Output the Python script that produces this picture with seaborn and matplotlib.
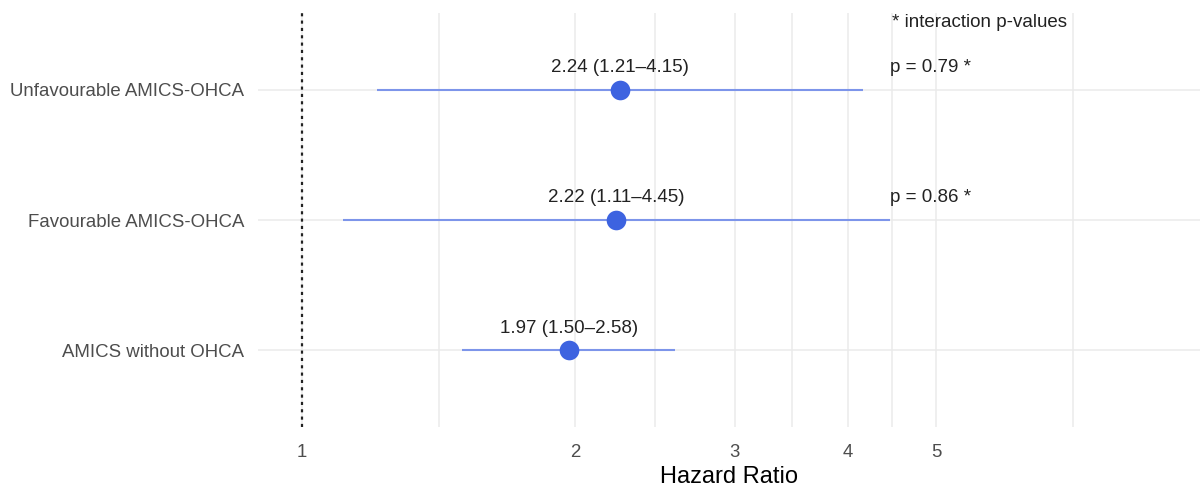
import numpy as np
import pandas as pd
import matplotlib
matplotlib.use("Agg")
import matplotlib.pyplot as plt
from matplotlib.ticker import FixedLocator, NullFormatter
import seaborn as sns

# Subgroups, listed top to bottom
groups = ["Unfavourable AMICS-OHCA", "Favourable AMICS-OHCA", "AMICS without OHCA"]
hazard_ratio = [2.24, 2.22, 1.97]
ci_lower = [1.21, 1.11, 1.50]
ci_upper = [4.15, 4.45, 2.58]
p_interaction = ["p = 0.79 *", "p = 0.86 *", ""]
footnote = "* interaction p-values"
x_ticks = [1, 2, 3, 4, 5]

df = pd.DataFrame({
    "group": groups,
    "hr": hazard_ratio,
    "lo": ci_lower,
    "hi": ci_upper,
    "p": p_interaction,
})
df["ypos"] = np.arange(len(df))[::-1] + 1
df["label"] = [f"{h:.2f} ({l:.2f}\u2013{u:.2f})" for h, l, u in zip(df.hr, df.lo, df.hi)]

sns.set_theme(style="whitegrid")
plt.rcParams["font.family"] = ["Liberation Sans", "DejaVu Sans"]

fig = plt.figure(figsize=(12, 4.88), dpi=100)
ax = fig.add_axes([0.215, 0.125, 0.785, 0.848])

line_col = "#7d95ea"
point_col = "#3d63e0"
grid_col = "#ebebeb"

# confidence intervals
ax.hlines(df.ypos, df.lo, df.hi, color=line_col, lw=1.5, zorder=2)
# point estimates
sns.scatterplot(data=df, x="hr", y="ypos", ax=ax, s=200, color=point_col,
                edgecolor=point_col, linewidth=0, zorder=3, legend=False)

ax.set_xscale("log")
ax.set_xlim(0.894, 9.77)
ax.set_ylim(0.41, 3.59)

# reference line at HR = 1
ax.axvline(1, color="#222222", lw=1.6, ls=(0, (1.4, 1.9)), zorder=2)

# estimate labels above each point
for _, r in df.iterrows():
    ax.text(r.hr, r.ypos + 0.17, r.label, ha="center", va="center",
            fontsize=13.5, color="#222222", zorder=4)
    if r.p:
        ax.text(4.45, r.ypos + 0.17, r.p, ha="left", va="center",
                fontsize=13.5, color="#222222", zorder=4)
ax.text(4.47, 3.52, footnote, ha="left", va="center", fontsize=13.5,
        color="#222222", zorder=4)

# axis ticks and grid
majors = x_ticks + [10]
ax.xaxis.set_major_locator(FixedLocator(x_ticks))
ax.set_xticklabels([str(t) for t in x_ticks])
minor = [np.sqrt(a * b) for a, b in zip(majors[:-1], majors[1:])]
ax.xaxis.set_minor_locator(FixedLocator(minor))
ax.xaxis.set_minor_formatter(NullFormatter())
ax.set_yticks(df.ypos)
ax.set_yticklabels(df.group)

ax.grid(True, which="major", color=grid_col, lw=1.1)
ax.grid(True, which="minor", axis="x", color=grid_col, lw=1.1)
for s in ax.spines.values():
    s.set_visible(False)
ax.set_facecolor("white")
ax.tick_params(axis="both", which="both", length=0)
ax.tick_params(axis="x", labelsize=13.4, labelcolor="#4d4d4d", pad=12)
ax.tick_params(axis="y", labelsize=13.4, labelcolor="#4d4d4d", pad=10)

ax.set_xlabel("Hazard Ratio", fontsize=17, color="black", labelpad=4)
ax.set_ylabel("")

fig.savefig("out.png", dpi=100, facecolor="white")
